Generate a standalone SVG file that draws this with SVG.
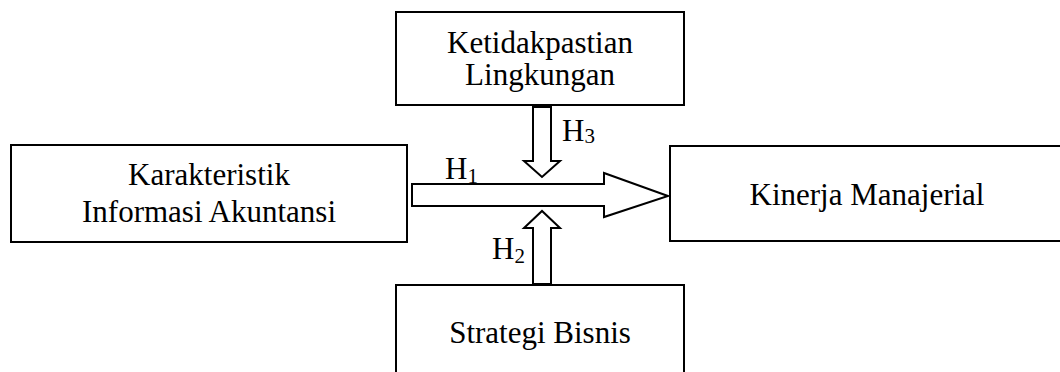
<svg xmlns="http://www.w3.org/2000/svg" width="1060" height="372" viewBox="0 0 1060 372">
<style>
.box{fill:#fff;stroke:#000;stroke-width:2}
.arr{fill:#fff;stroke:#000;stroke-width:2;stroke-linejoin:miter}
text{font-family:"Liberation Serif","Times New Roman",serif;font-size:31px;fill:#000}
.sub{font-size:21px}
</style>
<rect width="1060" height="372" fill="#fff"/>
<g id="node-ketidakpastian">
<rect class="box" x="396" y="12" width="288" height="93"/>
<text x="540" y="53" text-anchor="middle">Ketidakpastian</text>
<text x="540" y="85" text-anchor="middle">Lingkungan</text>
</g>
<g id="node-karakteristik">
<rect class="box" x="11" y="145" width="396" height="97"/>
<text x="209" y="185" text-anchor="middle">Karakteristik</text>
<text x="209" y="222" text-anchor="middle">Informasi Akuntansi</text>
</g>
<g id="node-kinerja">
<rect class="box" x="670" y="146" width="400" height="95"/>
<text x="867" y="205" text-anchor="middle">Kinerja Manajerial</text>
</g>
<g id="node-strategi">
<rect class="box" x="396" y="285" width="288" height="100"/>
<text x="540" y="343" text-anchor="middle">Strategi Bisnis</text>
</g>
<g id="connectors">
<polygon class="arr" points="412,184 604,184 604,173 668,196 604,217 604,206 412,206"/>
<polygon class="arr" points="533,107 551,107 551,161 560,161 542,177 524,161 533,161"/>
<polygon class="arr" points="533,284 551,284 551,228 560,228 542,211 524,228 533,228"/>
<text x="445" y="179">H<tspan class="sub" dy="4">1</tspan></text>
<text x="562" y="141">H<tspan class="sub" dy="2">3</tspan></text>
<text x="492" y="259">H<tspan class="sub" dy="4">2</tspan></text>
</g>
</svg>
